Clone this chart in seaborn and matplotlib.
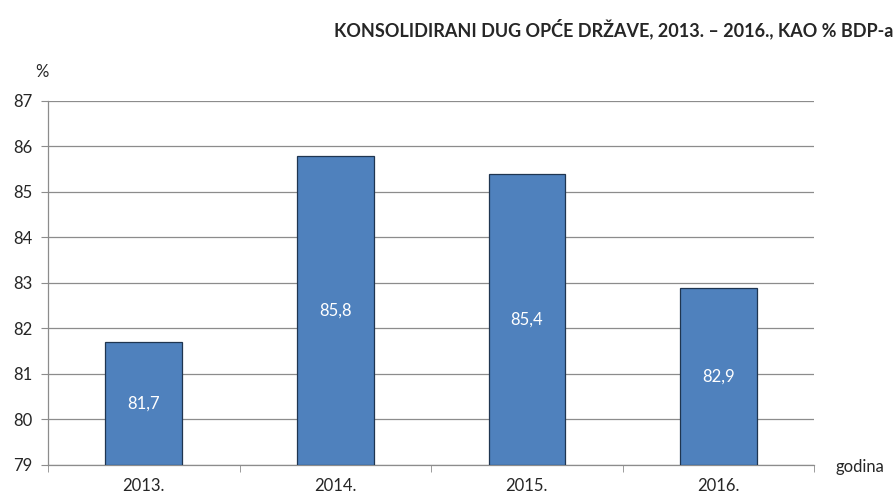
import matplotlib
matplotlib.use("Agg")
import matplotlib.pyplot as plt
import seaborn as sns
import pandas as pd

years = ["2013.", "2014.", "2015.", "2016."]
debt = [81.7, 85.8, 85.4, 82.9]
title = "KONSOLIDIRANI DUG OPĆE DRŽAVE, 2013. – 2016., KAO % BDP-a"

sns.set_style("white")
plt.rcParams["font.family"] = ["Lato", "DejaVu Sans"]

df = pd.DataFrame({"godina": years, "dug": debt})

fig = plt.figure(figsize=(8.96, 4.97), dpi=100)
ax = fig.add_axes([0.0536, 0.0644, 0.855, 0.7324])

base = 79
sns.barplot(x="godina", y="dug", data=df, color="#4F81BD", saturation=1,
            width=0.40, edgecolor="#1F3550", linewidth=0.9, ax=ax, zorder=3)
# bars start from 79 instead of 0
for p in ax.patches:
    h = p.get_height()
    p.set_y(base)
    p.set_height(h - base)

for i, v in enumerate(debt):
    ax.text(i, (base + v) / 2, f"{v:.1f}".replace(".", ","), ha="center",
            va="center", color="white", fontsize=12, zorder=4)

ax.set_ylim(79, 87)
ax.set_xlim(-0.5, 3.5)
ax.set_yticks(range(79, 88))
ax.yaxis.grid(True, color="#8C8C8C", linewidth=0.9, zorder=0)
ax.set_xlabel("")
ax.set_ylabel("")
for s in ["top", "right"]:
    ax.spines[s].set_visible(False)
for s in ["left", "bottom"]:
    ax.spines[s].set_color("#8C8C8C")
    ax.spines[s].set_linewidth(0.9)

ax.tick_params(axis="y", left=True, length=5, color="#8C8C8C", labelsize=12, pad=6)
ax.set_xticks([0, 1, 2, 3])
ax.set_xticklabels(years, fontsize=12)
ax.tick_params(axis="x", bottom=False, pad=6)
ax.set_xticks([-0.5, 0.5, 1.5, 2.5, 3.5], minor=True)
ax.tick_params(axis="x", which="minor", bottom=True, length=5, color="#8C8C8C")

fig.text(0.997, 0.942, title, ha="right", va="center", fontsize=13, fontweight="bold")
fig.text(0.047, 0.855, "%", ha="center", va="center", fontsize=12)
fig.text(0.933, 0.06, "godina", ha="left", va="center", fontsize=12)

fig.savefig("out.png", dpi=100)
